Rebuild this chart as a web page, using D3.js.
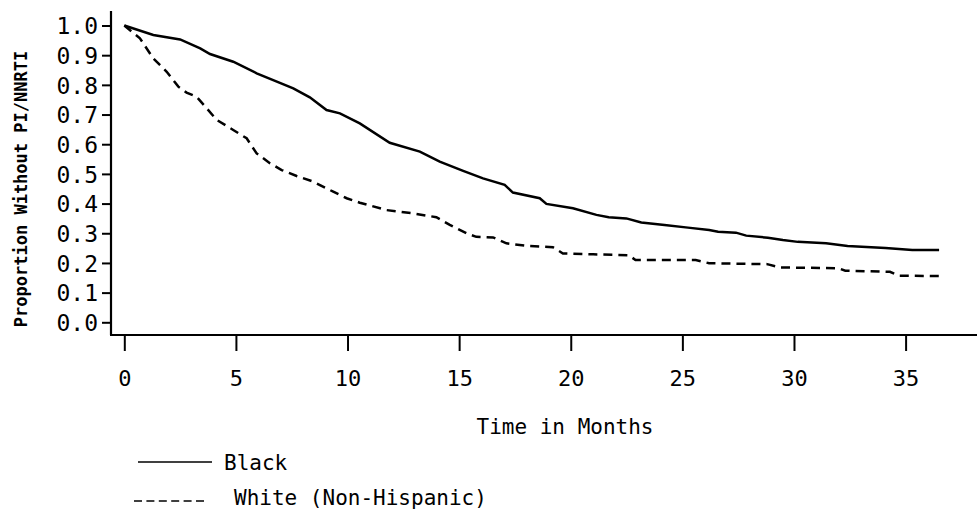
<!DOCTYPE html>
<html>
<head>
<meta charset="utf-8">
<script src="https://cdn.jsdelivr.net/npm/d3@7"></script>
<style>
  body { margin: 0; background: #fff; }
  text { font-family: "DejaVu Sans Mono", "Liberation Mono", monospace; fill: #000; }
</style>
</head>
<body>
<svg id="chart" width="977" height="512"></svg>
<script>
// months and survival proportions
var blackMonths = [0, 1.3, 2.5, 3.4, 3.84, 4.88, 5.93, 6.67, 7.57, 8.31, 9.06, 9.66, 10.55, 11.89, 13.24, 14.13, 15.18, 16.07, 17.04, 17.41, 18.61, 18.91, 20.1, 21.15, 21.7, 22.49, 23.16, 24.2, 25.25, 26.2, 26.6, 27.4, 27.86, 28.83, 29.5, 30.17, 31.44, 32.4, 34.1, 35.3, 36.5];
var blackValues = [1.0, 0.968, 0.953, 0.923, 0.904, 0.878, 0.839, 0.816, 0.788, 0.758, 0.715, 0.704, 0.670, 0.605, 0.575, 0.541, 0.510, 0.485, 0.463, 0.437, 0.418, 0.399, 0.384, 0.362, 0.354, 0.350, 0.336, 0.328, 0.319, 0.311, 0.305, 0.302, 0.292, 0.285, 0.277, 0.271, 0.266, 0.257, 0.250, 0.244, 0.244];

var whiteMonths = [0, 0.7, 1.3, 1.9, 2.42, 2.79, 3.24, 3.69, 4.14, 4.88, 5.48, 5.93, 6.52, 7.05, 7.72, 8.46, 9.36, 9.96, 10.55, 11.75, 12.94, 13.98, 14.58, 15.33, 15.77, 16.52, 17.12, 18.0, 19.2, 19.65, 21.0, 22.6, 22.9, 25.6, 26.2, 28.8, 29.35, 32.0, 32.3, 34.3, 34.7, 36.5];
var whiteValues = [1.0, 0.957, 0.889, 0.844, 0.794, 0.774, 0.760, 0.721, 0.682, 0.648, 0.620, 0.569, 0.536, 0.513, 0.493, 0.474, 0.440, 0.418, 0.403, 0.378, 0.367, 0.354, 0.328, 0.300, 0.288, 0.286, 0.266, 0.258, 0.253, 0.232, 0.229, 0.226, 0.210, 0.210, 0.199, 0.196, 0.185, 0.182, 0.174, 0.170, 0.157, 0.156];

var xTicks = [0, 5, 10, 15, 20, 25, 30, 35];
var yTicks = [0, 0.1, 0.2, 0.3, 0.4, 0.5, 0.6, 0.7, 0.8, 0.9, 1.0];
var seriesNames = ["Black", "White (Non-Hispanic)"];

var svg = d3.select("#chart");

var x = d3.scaleLinear().domain([0, 35]).range([124.3, 905.6]);
var y = d3.scaleLinear().domain([0, 1]).range([322.3, 25.5]);

//axis lines drawn by hand, offset box like the SAS plot
svg.append("line")
	.attr("x1", 111).attr("x2", 111)
	.attr("y1", 11).attr("y2", 335)
	.attr("stroke", "#000").attr("stroke-width", 2.2);
svg.append("line")
	.attr("x1", 110).attr("x2", 977)
	.attr("y1", 335).attr("y2", 335)
	.attr("stroke", "#000").attr("stroke-width", 2.2);

var yAxis = svg.append("g")
	.attr("transform", "translate(111,0)")
	.call(d3.axisLeft(y).tickValues(yTicks).tickFormat(d3.format(".1f")).tickSize(9).tickPadding(4));
yAxis.select(".domain").remove();
yAxis.selectAll("line").attr("stroke-width", 2);
yAxis.selectAll("text").style("font-size", "23px").attr("dy", "0.36em");

var xAxis = svg.append("g")
	.attr("transform", "translate(0,336)")
	.call(d3.axisBottom(x).tickValues(xTicks).tickSize(15).tickPadding(0));
xAxis.select(".domain").remove();
xAxis.selectAll("line").attr("stroke-width", 2);
xAxis.selectAll("text").style("font-size", "22px").attr("y", 50).attr("dy", 0);

svg.append("text")
	.attr("x", 565).attr("y", 434)
	.attr("text-anchor", "middle")
	.style("font-size", "21px")
	.text("Time in Months");

svg.append("text")
	.attr("transform", "translate(27,189) rotate(-90)")
	.attr("text-anchor", "middle")
	.style("font-size", "17px")
	.style("font-weight", "bold")
	.text("Proportion Without PI/NNRTI");

var line = d3.line()
	.x(function(d) { return x(d[0]); })
	.y(function(d) { return y(d[1]); })
	.curve(d3.curveLinear);

svg.append("path")
	.datum(d3.zip(blackMonths, blackValues))
	.attr("d", line)
	.attr("fill", "none")
	.attr("stroke", "#000")
	.attr("stroke-width", 2.5);

svg.append("path")
	.datum(d3.zip(whiteMonths, whiteValues))
	.attr("d", line)
	.attr("fill", "none")
	.attr("stroke", "#000")
	.attr("stroke-width", 2.5)
	.attr("stroke-dasharray", "9,6");

//legend
svg.append("line")
	.attr("x1", 138).attr("x2", 212)
	.attr("y1", 462).attr("y2", 462)
	.attr("stroke", "#000").attr("stroke-width", 1.5);
svg.append("text")
	.attr("x", 224).attr("y", 470)
	.style("font-size", "21px")
	.text(seriesNames[0]);

svg.append("line")
	.attr("x1", 134).attr("x2", 204)
	.attr("y1", 501).attr("y2", 501)
	.attr("stroke", "#000").attr("stroke-width", 1.5)
	.attr("stroke-dasharray", "8,4.4");
svg.append("text")
	.attr("x", 234).attr("y", 505)
	.style("font-size", "21px")
	.text(seriesNames[1]);
</script>
</body>
</html>
